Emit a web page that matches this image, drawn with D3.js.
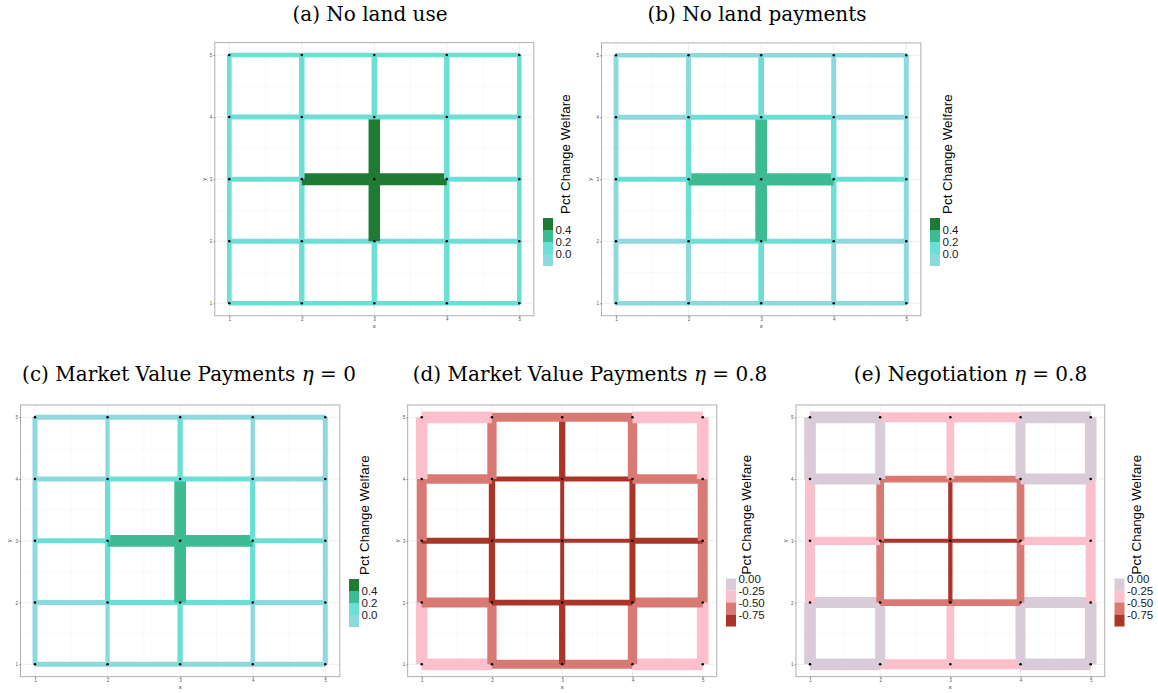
<!DOCTYPE html>
<html><head><meta charset="utf-8">
<script src="https://cdn.jsdelivr.net/npm/d3@7"></script>
<style>body{margin:0;background:#fff} svg{display:block}</style>
</head><body><svg id="chart" width="1158" height="693"></svg>
<script>
// ---------------- DATA ----------------
// Road network: 40 links on a 5x5 grid of towns (from (x1,y1) to (x2,y2))
const edgeX1 = [1,1,2,2,3,3,4,4,5, 1,1,2,2,3,3,4,4,5, 1,1,2,2,3,3,4,4,5, 1,1,2,2,3,3,4,4,5, 1,2,3,4];
const edgeX2 = [2,1,3,2,4,3,5,4,5, 2,1,3,2,4,3,5,4,5, 2,1,3,2,4,3,5,4,5, 2,1,3,2,4,3,5,4,5, 2,3,4,5];
const edgeY1 = [1,1,1,1,1,1,1,1,1, 2,2,2,2,2,2,2,2,2, 3,3,3,3,3,3,3,3,3, 4,4,4,4,4,4,4,4,4, 5,5,5,5];
const edgeY2 = [1,2,1,2,1,2,1,2,2, 2,3,2,3,2,3,2,3,3, 3,4,3,4,3,4,3,4,4, 4,5,4,5,4,5,4,5,5, 5,5,5,5];

const nodeX = [1,2,3,4,5];
const nodeY = [1,2,3,4,5];

// Pct change in welfare per link, one list per panel
const welfareA = [0.11,0.12,0.12,0.13,0.12,0.14,0.12,0.13,0.12,
                  0.12,0.12,0.14,0.15,0.14,0.46,0.12,0.15,0.12,
                  0.13,0.12,0.47,0.15,0.47,0.46,0.13,0.15,0.12,
                  0.12,0.12,0.14,0.15,0.14,0.15,0.12,0.15,0.12,
                  0.11,0.12,0.12,0.11];
const welfareB = [-0.04,-0.05,-0.03,-0.03,-0.03,0.06,-0.03,-0.03,-0.05,
                  -0.03,-0.04,0.07,0.08,0.07,0.31,-0.03,0.08,-0.04,
                  0.05,-0.04,0.32,0.08,0.32,0.31,0.05,0.08,-0.04,
                  -0.03,-0.05,0.07,-0.03,0.07,0.06,-0.03,-0.03,-0.05,
                  -0.04,-0.03,-0.03,-0.04];
const welfareC = [-0.05,-0.06,-0.04,-0.04,-0.04,0.05,-0.04,-0.04,-0.06,
                  -0.04,-0.05,0.06,0.07,0.06,0.29,-0.04,0.07,-0.05,
                  0.04,-0.05,0.30,0.07,0.30,0.29,0.04,0.07,-0.05,
                  -0.04,-0.06,0.06,-0.04,0.06,0.05,-0.04,-0.04,-0.06,
                  -0.05,-0.04,-0.04,-0.05];
const welfareD = [-0.38,-0.38,-0.58,-0.60,-0.58,-0.80,-0.38,-0.60,-0.38,
                  -0.55,-0.62,-0.82,-0.84,-0.82,-0.88,-0.55,-0.84,-0.62,
                  -0.79,-0.62,-0.86,-0.84,-0.86,-0.88,-0.79,-0.84,-0.62,
                  -0.55,-0.38,-0.82,-0.60,-0.82,-0.80,-0.55,-0.60,-0.38,
                  -0.38,-0.58,-0.58,-0.38];
const welfareE = [-0.12,-0.12,-0.30,-0.15,-0.30,-0.40,-0.12,-0.15,-0.12,
                  -0.18,-0.30,-0.55,-0.60,-0.55,-0.80,-0.18,-0.60,-0.30,
                  -0.40,-0.30,-0.78,-0.60,-0.78,-0.80,-0.40,-0.60,-0.30,
                  -0.18,-0.12,-0.55,-0.15,-0.55,-0.40,-0.18,-0.15,-0.12,
                  -0.12,-0.30,-0.30,-0.12];

// Link traffic (mapped to line width), one list per panel
const trafficA = [4.5,4.7,4.5,5.5,4.5,5.5,4.5,5.5,4.7,
                  5.0,4.7,5.0,5.5,5.0,11.5,5.0,5.5,4.7,
                  5.0,4.7,12.0,5.5,12.0,11.5,5.0,5.5,4.7,
                  5.0,4.7,5.0,5.5,5.0,5.5,5.0,5.5,4.7,
                  4.5,4.5,4.5,4.5];
const trafficB = [4.5,5.0,4.5,5.0,4.5,5.7,4.5,5.0,5.0,
                  5.0,5.0,5.0,5.5,5.0,11.7,5.0,5.5,5.0,
                  5.0,5.0,12.3,5.5,12.3,11.7,5.0,5.5,5.0,
                  5.0,5.0,5.0,5.0,5.0,5.7,5.0,5.0,5.0,
                  4.5,4.5,4.5,4.5];
const trafficC = [5.0,5.0,5.0,4.3,5.0,5.3,5.0,4.3,5.0,
                  5.0,5.0,5.0,5.3,5.0,11.7,5.0,5.3,5.0,
                  5.0,5.0,11.7,5.3,11.7,11.7,5.0,5.3,5.0,
                  5.0,5.0,5.0,4.3,5.0,5.3,5.0,4.3,5.0,
                  5.0,5.0,5.0,5.0];
const trafficD = [11.7,11.7,9.0,9.3,9.0,6.3,11.7,9.3,11.7,
                  10.0,10.0,5.7,6.3,5.7,4.0,10.0,6.0,10.0,
                  6.0,10.0,4.0,6.3,4.0,4.0,6.0,6.0,10.0,
                  9.5,11.7,5.0,9.3,5.0,6.3,9.5,9.3,11.7,
                  11.7,9.0,9.0,11.7];
const trafficE = [11.7,11.7,10.0,10.0,10.0,7.7,11.7,10.0,11.7,
                  11.0,10.0,6.7,7.7,6.7,4.3,11.0,7.7,10.0,
                  8.3,10.0,4.0,7.7,4.0,4.3,8.3,7.7,10.0,
                  11.0,11.7,6.7,10.0,6.7,7.7,11.0,10.0,11.7,
                  11.7,10.0,10.0,11.7];

const panelTitles = ["(a) No land use", "(b) No land payments",
                     "(c) Market Value Payments η = 0",
                     "(d) Market Value Payments η = 0.8",
                     "(e) Negotiation η = 0.8"];
const axisTicks = [1,2,3,4,5];
const legendTitle = "Pct Change Welfare";
const greenBreaks = [0.4, 0.2, 0.0];
const greenBreakLabels = ["0.4", "0.2", "0.0"];
const redBreaks = [0.00, -0.25, -0.50, -0.75];
const redBreakLabels = ["0.00", "-0.25", "-0.50", "-0.75"];

// ---------------- SCALES / STYLES ----------------
const greenColors = ["#8DDADE", "#6BDFD6", "#3DBC94", "#1F7A33"];
const redColors = ["#A93428", "#D87A73", "#FBC0CB", "#D9CCD8"];
const greenScale = d3.scaleThreshold().domain([0, 0.2, 0.4]).range(greenColors);
const redScale = d3.scaleThreshold().domain([-0.75, -0.5, -0.25]).range(redColors);
const widthScale = d3.scaleLinear().domain([0, 12]).range([0, 12]);

const panels = [
  {title: panelTitles[0], w: welfareA, t: trafficA, scale: "green", nx1: 229.3, nx5: 519.3, ny5: 55.0, ny1: 303.3, lgX: 543, lgY: 218, ltDx: 27, tx: 370, ty: 21},
  {title: panelTitles[1], w: welfareB, t: trafficB, scale: "green", nx1: 616.0, nx5: 906.3, ny5: 55.3, ny1: 303.3, lgX: 930, lgY: 218, ltDx: 22, tx: 757, ty: 21},
  {title: panelTitles[2], w: welfareC, t: trafficC, scale: "green", nx1: 35.0, nx5: 325.3, ny5: 417.3, ny1: 664.3, lgX: 349, lgY: 579, ltDx: 20, tx: 189, ty: 381},
  {title: panelTitles[3], w: welfareD, t: trafficD, scale: "red", nx1: 421.7, nx5: 702.7, ny5: 417.3, ny1: 664.3, lgX: 726, lgY: 578.5, ltDx: 25, tx: 590, ty: 381},
  {title: panelTitles[4], w: welfareE, t: trafficE, scale: "red", nx1: 810.0, nx5: 1090.7, ny5: 417.3, ny1: 664.3, lgX: 1114.5, lgY: 578.5, ltDx: 26, tx: 970.5, ty: 381}
];

const svg = d3.select("#chart");
svg.append("rect").attr("width", 1158).attr("height", 693).attr("fill", "#fff");

const titleFont = "DejaVu Serif, serif";
const titleSize = 20;

panels.forEach(p => {
  const g = svg.append("g");
  const x = d3.scaleLinear().domain([1, 5]).range([p.nx1, p.nx5]);
  const y = d3.scaleLinear().domain([1, 5]).range([p.ny1, p.ny5]);
  const x0 = x(0.8), x1 = x(5.2), y0 = y(5.2), y1 = y(0.8);
  const color = p.scale === "green" ? greenScale : redScale;

  // grid
  const minor = [1.5, 2.5, 3.5, 4.5];
  g.append("g").selectAll("line").data(minor).join("line")
    .attr("x1", d => x(d)).attr("x2", d => x(d)).attr("y1", y0).attr("y2", y1)
    .attr("stroke", "#F3F3F3").attr("stroke-width", 0.5);
  g.append("g").selectAll("line").data(minor).join("line")
    .attr("y1", d => y(d)).attr("y2", d => y(d)).attr("x1", x0).attr("x2", x1)
    .attr("stroke", "#F3F3F3").attr("stroke-width", 0.5);
  g.append("g").selectAll("line").data(axisTicks).join("line")
    .attr("x1", d => x(d)).attr("x2", d => x(d)).attr("y1", y0).attr("y2", y1)
    .attr("stroke", "#EBEBEB").attr("stroke-width", 0.8);
  g.append("g").selectAll("line").data(axisTicks).join("line")
    .attr("y1", d => y(d)).attr("y2", d => y(d)).attr("x1", x0).attr("x2", x1)
    .attr("stroke", "#EBEBEB").attr("stroke-width", 0.8);

  // edges
  const edges = edgeX1.map((_, i) => ({x1: edgeX1[i], y1: edgeY1[i], x2: edgeX2[i], y2: edgeY2[i], w: p.w[i], t: p.t[i]}));
  g.append("g").selectAll("line").data(edges).join("line")
    .attr("x1", d => x(d.x1)).attr("y1", d => y(d.y1))
    .attr("x2", d => x(d.x2)).attr("y2", d => y(d.y2))
    .attr("stroke", d => color(d.w))
    .attr("stroke-width", d => widthScale(d.t))
    .attr("stroke-linecap", "butt");

  // nodes
  const nodes = [];
  nodeY.forEach(ny => nodeX.forEach(nx => nodes.push({x: nx, y: ny})));
  g.append("g").selectAll("circle").data(nodes).join("circle")
    .attr("cx", d => x(d.x)).attr("cy", d => y(d.y)).attr("r", 1.3).attr("fill", "#000");

  // panel border
  g.append("rect").attr("x", x0).attr("y", y0).attr("width", x1 - x0).attr("height", y1 - y0)
    .attr("fill", "none").attr("stroke", "#B0B0B0").attr("stroke-width", 1);

  // axes
  const ax = g.append("g").attr("transform", `translate(0,${y1})`)
    .call(d3.axisBottom(x).tickValues(axisTicks).tickSize(1.5).tickPadding(1).tickFormat(d3.format("d")));
  const ay = g.append("g").attr("transform", `translate(${x0},0)`)
    .call(d3.axisLeft(y).tickValues(axisTicks).tickSize(1.5).tickPadding(1).tickFormat(d3.format("d")));
  [ax, ay].forEach(a => {
    a.select(".domain").remove();
    a.selectAll(".tick line").attr("stroke", "#444").attr("stroke-width", 0.5);
    a.selectAll(".tick text").attr("fill", "#555").attr("font-size", 4.5).attr("font-family", "Liberation Sans, Arial, sans-serif");
  });
  g.append("text").attr("x", x(3)).attr("y", y1 + 12).attr("text-anchor", "middle")
    .attr("font-size", 6).attr("font-family", "Liberation Sans, Arial, sans-serif").attr("fill", "#333").text("x");
  g.append("text").attr("transform", `translate(${x0 - 9},${y(3)}) rotate(-90)`).attr("text-anchor", "middle")
    .attr("font-size", 6).attr("font-family", "Liberation Sans, Arial, sans-serif").attr("fill", "#333").text("y");

  // title
  const parts = p.title.split("η");
  const tt = g.append("text").attr("x", p.tx).attr("y", p.ty).attr("text-anchor", "middle")
    .attr("font-family", titleFont).attr("font-size", titleSize).attr("fill", "#000");
  tt.append("tspan").text(parts[0]);
  if (parts.length > 1) {
    tt.append("tspan").attr("font-style", "italic").text("η");
    tt.append("tspan").text(parts[1]);
  }

  // legend
  const lg = g.append("g");
  const keyW = 10, keyH = 12;
  let keyVals, labelPos;
  if (p.scale === "green") {
    keyVals = [0.5, 0.3, 0.1, -0.1];
    const ls = d3.scaleLinear().domain([0.4, 0.0]).range([p.lgY + keyH, p.lgY + 3 * keyH]);
    labelPos = greenBreaks.map((b, i) => ({y: ls(b), t: greenBreakLabels[i]}));
  } else {
    keyVals = [-0.1, -0.35, -0.6, -0.85];
    const ls = d3.scaleLinear().domain([0.0, -0.75]).range([p.lgY, p.lgY + 3 * keyH]);
    labelPos = redBreaks.map((b, i) => ({y: ls(b), t: redBreakLabels[i]}));
  }
  lg.selectAll("rect").data(keyVals).join("rect")
    .attr("x", p.lgX).attr("y", (d, i) => p.lgY + i * keyH)
    .attr("width", keyW).attr("height", keyH).attr("fill", d => color(d));
  lg.selectAll("text.lab").data(labelPos).join("text").attr("class", "lab")
    .attr("x", p.lgX + 12.5).attr("y", d => d.y).attr("dy", "0.36em")
    .attr("font-size", 11.5).attr("font-family", "Liberation Sans, Arial, sans-serif").attr("fill", "#1a1a1a")
    .text(d => d.t);
  lg.append("text").attr("transform", `translate(${p.lgX + p.ltDx},${p.lgY - 4}) rotate(-90)`)
    .attr("font-size", 13.4).attr("font-family", "Liberation Sans, Arial, sans-serif").attr("fill", "#000")
    .text(legendTitle);
});
</script>
</body></html>
